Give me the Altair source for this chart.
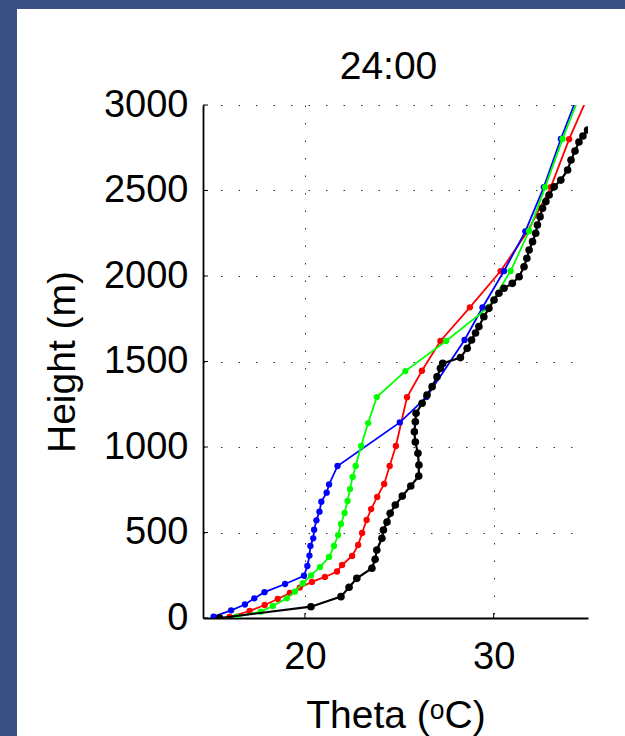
import altair as alt
import pandas as pd

FONT = "Liberation Sans"
TITLE = "24:00"
X_TITLE = "Theta (ᵒC)"
Y_TITLE = "Height (m)"
X_TICKS = [20, 30]
Y_TICKS = [0, 500, 1000, 1500, 2000, 2500, 3000]
X_DOMAIN = [14.6, 35]
Y_DOMAIN = [0, 3000]

blue_h = [8, 45, 79, 115, 151, 199, 247, 304, 365, 421, 466, 516, 571, 622, 680,
          733, 781, 889, 1144, 1292, 1626, 1816, 2029, 2261, 2520, 2801, 3090]
blue_theta = [15.16, 16.09, 16.82, 17.32, 17.86, 18.95, 19.95, 20.13, 20.24, 20.29,
              20.44, 20.49, 20.61, 20.77, 20.87, 21.15, 21.28, 21.73, 25.03, 26.44,
              28.46, 29.41, 30.55, 31.68, 32.66, 33.56, 34.58]

green_h = [8, 37, 70, 115, 154, 203, 249, 298, 357, 421, 485, 550, 614, 684, 754,
           825, 889, 1006, 1140, 1292, 1444, 1620, 1819, 2029, 2263, 2520, 2801, 3090]
green_theta = [16.38, 17.66, 18.30, 19.04, 19.47, 19.89, 20.32, 20.80, 21.28, 21.54,
               21.76, 21.91, 22.10, 22.26, 22.39, 22.53, 22.69, 22.98, 23.35, 23.81,
               25.32, 27.48, 29.75, 30.90, 31.88, 32.73, 33.65, 34.68]

red_h = [6, 41, 76, 111, 146, 178, 211, 240, 272, 310, 363, 427, 497, 573, 637,
         708, 784, 889, 1006, 1291, 1446, 1620, 1817, 2029, 2263, 2520, 2800, 3090]
red_theta = [16.01, 17.07, 17.87, 18.56, 19.20, 19.73, 20.37, 21.06, 21.70, 21.97,
             22.50, 22.82, 23.03, 23.27, 23.51, 23.83, 24.20, 24.49, 24.82, 25.41,
             26.20, 27.18, 28.74, 30.37, 31.81, 33.03, 34.00, 35.15]

black_h = [0, 66, 125, 180, 232, 291, 343, 398, 466, 515, 561, 612, 661, 713, 772,
           830, 895, 963, 1029, 1089, 1148, 1197, 1256, 1304, 1353, 1411, 1460, 1489,
           1523, 1577, 1626, 1667, 1704, 1762, 1811, 1860, 1899, 1928, 1957, 1996,
           2054, 2104, 2152, 2201, 2250, 2298, 2347, 2396, 2435, 2474, 2522, 2561,
           2620, 2678, 2731, 2784, 2819, 2854]
black_theta = [15.48, 20.32, 21.91, 22.34, 22.75, 23.55, 23.72, 23.81, 24.08, 24.16,
               24.35, 24.52, 24.79, 25.16, 25.61, 26.03, 26.04, 25.99, 25.85, 25.80,
               25.85, 25.89, 26.21, 26.47, 26.74, 27.00, 27.18, 27.30, 28.24, 28.60,
               28.83, 29.04, 29.22, 29.48, 29.75, 30.02, 30.28, 30.55, 30.99, 31.35,
               31.61, 31.76, 31.88, 32.06, 32.23, 32.32, 32.46, 32.59, 32.77, 32.94,
               33.21, 33.56, 33.92, 34.10, 34.31, 34.52, 34.73, 34.98]

W, H = 385, 513
BG = "#3a5183"

X = alt.X("theta:Q", scale=alt.Scale(domain=X_DOMAIN, nice=False, zero=False),
          title=X_TITLE,
          axis=alt.Axis(values=X_TICKS, format="d", grid=True, gridDash=[1.5, 16],
                        gridColor="#333333", gridWidth=1, ticks=False, domainColor="black",
                        domainWidth=1.8, labelFont=FONT, labelFontSize=38, labelColor="black",
                        labelPadding=20, titleFont=FONT, titleFontSize=39,
                        titleFontWeight="normal", titleColor="black", titleY=109,
                        titleBaseline="alphabetic"))
Y = alt.Y("h:Q", scale=alt.Scale(domain=Y_DOMAIN, nice=False, zero=False),
          title=Y_TITLE,
          axis=alt.Axis(values=Y_TICKS, format="d", grid=True, gridDash=[1.5, 16],
                        gridColor="#333333", gridWidth=1, ticks=False, domainColor="black",
                        domainWidth=1.8, labelFont=FONT, labelFontSize=38, labelColor="black",
                        labelPadding=15, titleFont=FONT, titleFontSize=39,
                        titleFontWeight="normal", titleColor="black", titleX=-129,
                        titleY=H / 2, titleAngle=270, titleAlign="center",
                        titleBaseline="alphabetic"))


def series(h, t, color, lw, size):
    df = pd.DataFrame({"h": h, "theta": t, "i": list(range(len(h)))})
    base = alt.Chart(df)
    line = base.mark_line(color=color, strokeWidth=lw, clip=True).encode(x=X, y=Y, order="i:Q")
    pts = base.mark_circle(color=color, size=size, opacity=1, clip=True).encode(x=X, y=Y)
    return [line, pts]


one = pd.DataFrame({"a": [0]})
left_strip = alt.Chart(one).mark_rect(color=BG).encode(
    x=alt.value(-203), x2=alt.value(-186), y=alt.value(-105), y2=alt.value(631))
top_strip = alt.Chart(one).mark_rect(color=BG).encode(
    x=alt.value(-203), x2=alt.value(422), y=alt.value(-105), y2=alt.value(-96))
title_mark = alt.Chart(one).mark_text(
    text=TITLE, font=FONT, fontSize=39, color="black", align="center", baseline="alphabetic"
).encode(x=alt.value(W / 2 - 7), y=alt.value(-26))

yt = alt.Chart(pd.DataFrame({"h": Y_TICKS})).mark_rule(color="black", strokeWidth=1).encode(
    y=Y, x=alt.value(0), x2=alt.value(5))
xt = alt.Chart(pd.DataFrame({"theta": X_TICKS})).mark_rule(color="black", strokeWidth=1).encode(
    x=X, y=alt.value(H), y2=alt.value(H - 5))

layers = [left_strip, top_strip, title_mark, yt, xt]
layers += series(red_h, red_theta, "#ff0000", 1.8, 40)
layers += series(blue_h, blue_theta, "#0000ff", 1.8, 40)
layers += series(green_h, green_theta, "#00ff00", 1.8, 40)
layers += series(black_h, black_theta, "#000000", 2.2, 58)

chart = alt.layer(*layers).properties(
    width=W, height=H,
    padding={"left": 0, "top": 0, "right": 0, "bottom": 0},
).configure(background="white").configure_view(stroke=None)

chart.save("out.html", embed_options={"renderer": "svg", "actions": False})
